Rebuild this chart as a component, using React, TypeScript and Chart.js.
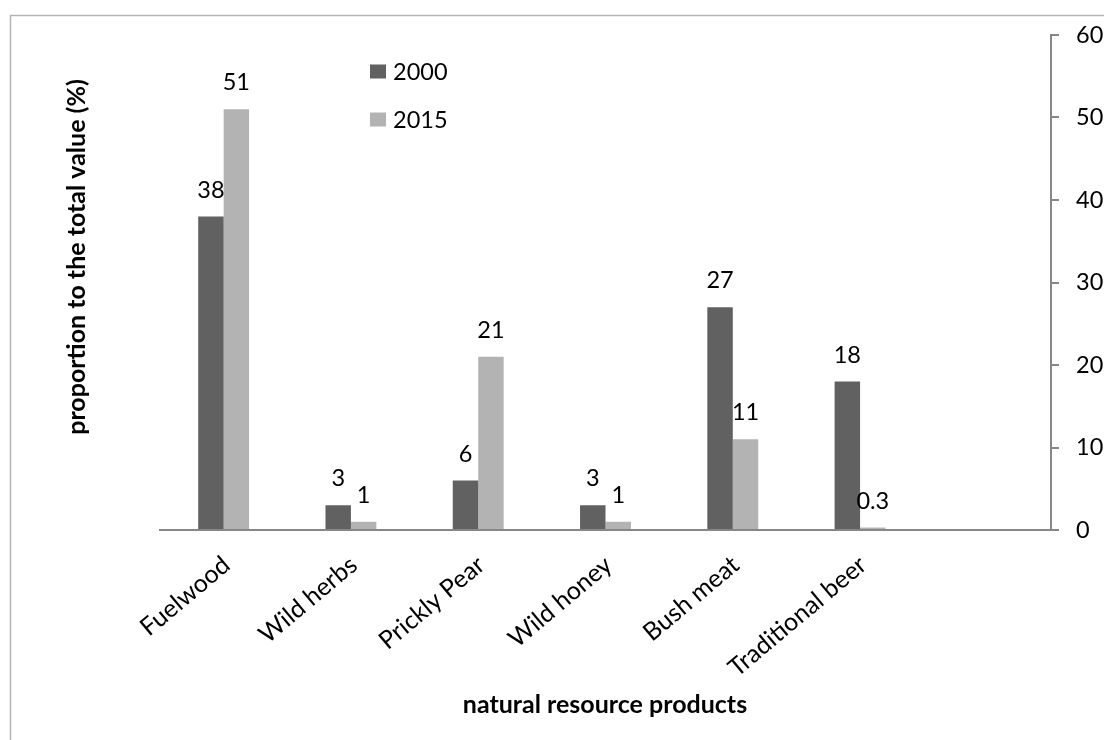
import React, { useEffect, useRef } from "react";
import { Chart, registerables } from "chart.js";

Chart.register(...registerables);

// Share of each natural resource product in the total value (%)
const categories = ["Fuelwood", "Wild herbs", "Prickly Pear", "Wild honey", "Bush meat", "Traditional beer", ""];
const values2000 = [38, 3, 6, 3, 27, 18, null];
const values2015 = [51, 1, 21, 1, 11, 0.3, null];
const seriesNames = ["2000", "2015"];
const seriesColors = ["#616161", "#b3b3b3"];
const yMin = 0;
const yMax = 60;
const yStep = 10;
const yTitle = "proportion to the total value (%)";
const xTitle = "natural resource products";

const FONT = "Lato, 'Open Sans', sans-serif";
const AXIS_COLOR = "#878787";
const NUM_SIZE = 23.5;

// White page with the light grey outer frame
const framePlugin = {
  id: "frame",
  beforeDraw(chart: any) {
    const { ctx, width, height } = chart;
    ctx.save();
    ctx.fillStyle = "#ffffff";
    ctx.fillRect(0, 0, width, height);
    ctx.strokeStyle = "#b4b4b4";
    ctx.lineWidth = 1.5;
    ctx.beginPath();
    ctx.moveTo(width + 5, 15.5);
    ctx.lineTo(10.5, 15.5);
    ctx.lineTo(10.5, height + 5);
    ctx.stroke();
    ctx.restore();
  },
};

// Value printed above each bar
const valueLabelPlugin = {
  id: "valueLabels",
  afterDatasetsDraw(chart: any) {
    const { ctx } = chart;
    ctx.save();
    ctx.font = `${NUM_SIZE}px ${FONT}`;
    ctx.fillStyle = "#000000";
    ctx.textAlign = "center";
    ctx.textBaseline = "alphabetic";
    chart.data.datasets.forEach((ds: any, i: number) => {
      const meta = chart.getDatasetMeta(i);
      meta.data.forEach((bar: any, j: number) => {
        const v = ds.data[j];
        if (v === null || v === undefined) return;
        ctx.fillText(String(v), bar.x, bar.y - 19);
      });
    });
    ctx.restore();
  },
};

// Legend placed inside the plot, to the right of the first group
const legendPlugin = {
  id: "insideLegend",
  afterDraw(chart: any) {
    const { ctx } = chart;
    ctx.save();
    ctx.font = `${NUM_SIZE}px ${FONT}`;
    ctx.textAlign = "left";
    ctx.textBaseline = "alphabetic";
    chart.data.datasets.forEach((ds: any, i: number) => {
      const cy = 71.5 + i * 48;
      ctx.fillStyle = ds.backgroundColor;
      ctx.fillRect(370, cy - 7, 16, 14);
      ctx.fillStyle = "#000000";
      ctx.fillText(ds.label, 393, cy + 8);
    });
    ctx.restore();
  },
};

// Axis titles: y title sits on the left, away from the right-hand value axis
const titlePlugin = {
  id: "axisTitles",
  afterDraw(chart: any) {
    const { ctx } = chart;
    ctx.save();
    ctx.fillStyle = "#000000";
    ctx.font = `bold 25px ${FONT}`;
    ctx.textAlign = "center";
    ctx.textBaseline = "alphabetic";
    ctx.translate(85, 257);
    ctx.rotate(-Math.PI / 2);
    ctx.fillText(yTitle, 0, 0);
    ctx.restore();

    ctx.save();
    ctx.fillStyle = "#000000";
    ctx.font = `bold 25px ${FONT}`;
    ctx.textAlign = "center";
    ctx.textBaseline = "alphabetic";
    ctx.fillText(xTitle, 605, 713);
    ctx.restore();
  },
};

export default function App() {
  const canvasRef = useRef<HTMLCanvasElement | null>(null);

  useEffect(() => {
    if (!canvasRef.current) return;
    const chart = new Chart(canvasRef.current, {
      type: "bar",
      data: {
        labels: categories,
        datasets: [
          {
            label: seriesNames[0],
            data: values2000,
            backgroundColor: seriesColors[0],
            borderWidth: 0,
            barPercentage: 1,
            categoryPercentage: 0.4,
          },
          {
            label: seriesNames[1],
            data: values2015,
            backgroundColor: seriesColors[1],
            borderWidth: 0,
            barPercentage: 1,
            categoryPercentage: 0.4,
          },
        ],
      },
      options: {
        responsive: false,
        animation: false,
        devicePixelRatio: 1,
        layout: { padding: { left: 160, top: 35, right: 0, bottom: 0 } },
        plugins: {
          legend: { display: false },
          tooltip: { enabled: false },
          title: { display: false },
        },
        scales: {
          x: {
            grid: { display: false, drawTicks: false },
            border: { display: true, color: AXIS_COLOR, width: 2 },
            ticks: {
              autoSkip: false,
              minRotation: 40,
              maxRotation: 40,
              padding: 20,
              labelOffset: 3,
              color: "#000000",
              font: { family: FONT, size: 25 },
            },
            afterFit(scale: any) {
              scale.height = 210;
            },
          },
          y: {
            position: "right",
            min: yMin,
            max: yMax,
            grid: {
              display: true,
              drawOnChartArea: false,
              drawTicks: true,
              tickLength: 8,
              color: AXIS_COLOR,
              lineWidth: 2,
            },
            border: { display: true, color: AXIS_COLOR, width: 2 },
            ticks: {
              stepSize: yStep,
              padding: 17,
              color: "#000000",
              font: { family: FONT, size: NUM_SIZE },
            },
            afterFit(scale: any) {
              scale.width = 53;
            },
          },
        },
      },
      plugins: [framePlugin, valueLabelPlugin, legendPlugin, titlePlugin],
    });
    return () => chart.destroy();
  }, []);

  return (
    <div style={{ position: "fixed", left: 0, top: 0, width: 1104, height: 740, background: "#ffffff" }}>
      <canvas ref={canvasRef} width={1104} height={740} style={{ display: "block", width: 1104, height: 740 }} />
    </div>
  );
}
